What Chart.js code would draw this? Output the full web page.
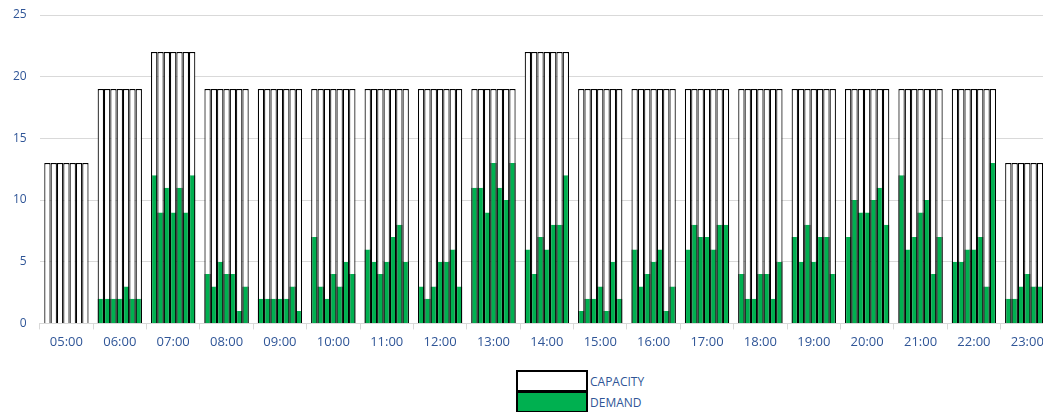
<!DOCTYPE html>
<html>
<head>
<meta charset="utf-8">
<script src="https://cdn.jsdelivr.net/npm/chart.js@4"></script>
<style>
  body { margin: 0; background: #fff; overflow: hidden; width: 1043px; height: 412px; position: relative; font-family: "Open Sans", sans-serif; }
  #wrap { position: absolute; left: 0; top: 0; width: 1062px; height: 360px; }
  .key { position: absolute; left: 516px; width: 72px; height: 22px; box-sizing: border-box; border: 2px solid #000; }
  .lbl { position: absolute; left: 590px; font-size: 12px; color: #2f5597; line-height: 20px; }
</style>
</head>
<body>
<div id="wrap"><canvas id="chart" width="1062" height="360"></canvas></div>
<div class="key" style="top:370px;background:#fff"></div>
<div class="key" style="top:391px;background:#00b050"></div>
<span class="lbl" style="top:372px">CAPACITY</span>
<span class="lbl" style="top:393px">DEMAND</span>
<script>
const hours = ['05:00', '06:00', '07:00', '08:00', '09:00', '10:00', '11:00', '12:00', '13:00', '14:00',
    '15:00', '16:00', '17:00', '18:00', '19:00', '20:00', '21:00', '22:00', '23:00'];

// same capacity for every slot within the hour
const capacity = [13, 19, 22, 19, 19, 19, 19, 19, 19, 22, 19, 19, 19, 19, 19, 19, 19, 19, 13];

// demand per hour, 7 slots each
const demand = [
    [0, 0, 0, 0, 0, 0, 0],
    [2, 2, 2, 2, 3, 2, 2],
    [12, 9, 11, 9, 11, 9, 12],
    [4, 3, 5, 4, 4, 1, 3],
    [2, 2, 2, 2, 2, 3, 1],
    [7, 3, 2, 4, 3, 5, 4],
    [6, 5, 4, 5, 7, 8, 5],
    [3, 2, 3, 5, 5, 6, 3],
    [11, 11, 9, 13, 11, 10, 13],
    [6, 4, 7, 6, 8, 8, 12],
    [1, 2, 2, 3, 1, 5, 2],
    [6, 3, 4, 5, 6, 1, 3],
    [6, 8, 7, 7, 6, 8, 8],
    [4, 2, 2, 4, 4, 2, 5],
    [7, 5, 8, 5, 7, 7, 4],
    [7, 10, 9, 9, 10, 11, 8],
    [12, 6, 7, 9, 10, 4, 7],
    [5, 5, 6, 6, 7, 3, 13],
    [2, 2, 3, 4, 3, 3, 3]
];

const slotCount = 7;
const textColor = '#2f5597';
const tickFont = { family: '"Open Sans", sans-serif', size: 13 };

const datasets = [];
// demand first so it is drawn on top of capacity
for (let s = 0; s < slotCount; s++) {
    datasets.push({
        label: 'DEMAND',
        data: demand.map(row => row[s]),
        backgroundColor: '#00b050',
        borderColor: '#000',
        borderWidth: { left: 1.2, right: 1.2, top: 0, bottom: 0 },
        stack: 's' + s
    });
}
for (let s = 0; s < slotCount; s++) {
    datasets.push({
        label: 'CAPACITY',
        data: capacity,
        backgroundColor: '#fff',
        borderColor: '#000',
        borderWidth: 1.2,
        stack: 's' + s
    });
}

new Chart(document.getElementById('chart').getContext('2d'), {
    type: 'bar',
    data: { labels: hours, datasets: datasets },
    options: {
        responsive: false,
        animation: false,
        datasets: { bar: { categoryPercentage: 0.83, barPercentage: 1 } },
        layout: { padding: { left: 0, right: 8, top: 15, bottom: 5 } },
        plugins: { legend: { display: false }, tooltip: { enabled: false } },
        scales: {
            x: {
                grid: { drawOnChartArea: false, color: '#d9d9d9', tickLength: 6 },
                border: { color: '#d9d9d9' },
                ticks: { color: textColor, font: tickFont, padding: 5 }
            },
            y: {
                stacked: false,
                min: 0,
                max: 25,
                ticks: { stepSize: 5, color: textColor, font: { family: '"Open Sans", sans-serif', size: 12 }, padding: 13 },
                grid: { color: '#d9d9d9', drawTicks: false },
                border: { display: false },
                // tick padding otherwise pushes the plot top down
                afterFit: (scale) => { scale.paddingTop = 0; scale.paddingBottom = 0; }
            }
        }
    }
});
</script>
</body>
</html>
